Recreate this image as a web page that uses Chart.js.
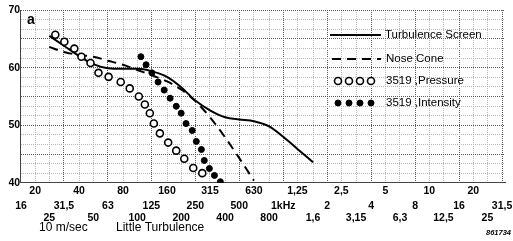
<!DOCTYPE html>
<html>
<head>
<meta charset="utf-8">
<script src="https://cdn.jsdelivr.net/npm/chart.js@4.4.0/dist/chart.umd.min.js"></script>
<style>
  body { margin: 0; background: #fff; }
  canvas { display: block; }
</style>
</head>
<body>
<canvas id="chart" width="513" height="241"></canvas>
<script>
// frequency axis, three rows of labels (Hz)
var row1Freqs = [20, 40, 80, 160, 315, 630, 1250, 2500, 5000, 10000, 20000];
var row1Labels = ["20", "40", "80", "160", "315", "630", "1,25", "2,5", "5", "10", "20"];
var row2Freqs = [16, 31.5, 63, 125, 250, 500, 1000, 2000, 4000, 8000, 16000, 31500];
var row2Labels = ["16", "31,5", "63", "125", "250", "500", "1kHz", "2", "4", "8", "16", "31,5"];
var row3Freqs = [25, 50, 100, 200, 400, 800, 1600, 3150, 6300, 12500, 25000];
var row3Labels = ["25", "50", "100", "200", "400", "800", "1,6", "3,15", "6,3", "12,5", "25"];

// level axis (dB)
var yLabels = [40, 50, 60, 70];

// Turbulence Screen (solid)
var tsFreq = [25, 31.5, 40, 50, 63, 80, 100, 125, 160, 200, 250, 315, 400, 500, 630, 800, 1000, 1250, 1600];
var tsLevel = [65.5, 63.8, 62.0, 60.6, 59.9, 59.8, 59.8, 59.4, 58.4, 56.6, 54.3, 52.6, 51.4, 51.0, 50.7, 49.8, 48.0, 45.9, 43.6];

// Nose Cone (dashed)
var ncFreq = [25, 31.5, 40, 50, 63, 80, 100, 125, 160, 200, 250, 315, 400, 500, 630];
var ncLevel = [63.6, 62.7, 62.2, 61.9, 61.2, 60.5, 59.6, 58.7, 57.6, 56.2, 54.2, 51.4, 47.9, 44.3, 40.4];

// 3519 ,Pressure (open circles)
var pFreq = [27.5, 31.7, 37.1, 41.5, 47.9, 54.3, 63.7, 77.1, 88.9, 102.6, 112.8, 122, 130, 143, 163, 185, 210, 242, 279];
var pLevel = [65.7, 64.5, 63.3, 61.9, 60.8, 59.1, 58.4, 57.5, 56.4, 55.0, 53.6, 52.1, 50.3, 48.6, 47.0, 45.6, 44.2, 42.6, 41.7];

// 3519 ,Intensity (filled dots)
var iFreq = [106, 115, 126, 139, 153, 168, 185, 200, 216, 238, 254, 275, 288, 312, 338, 371];
var iLevel = [61.9, 60.5, 59.1, 57.5, 56.1, 54.7, 53.3, 52.1, 50.3, 49.1, 47.2, 45.8, 43.9, 42.5, 41.3, 40.2];

function pairs(xs, ys) {
  return xs.map(function (x, i) { return { x: x, y: ys[i] }; });
}

var gridFreqs = row1Freqs.concat(row2Freqs, row3Freqs).sort(function (a, b) { return a - b; });

var tickFont = { family: "Liberation Sans", size: 10.5, weight: "bold", lineHeight: 1.05 };

function rowAxis(freqs, labels, weight, pad) {
  return {
    type: "logarithmic",
    position: "bottom",
    weight: weight,
    min: 15.8,
    max: 33000,
    grid: { display: false, drawTicks: false },
    border: { display: false },
    afterBuildTicks: function (scale) {
      scale.ticks = freqs.map(function (f) { return { value: f }; });
    },
    afterFit: function (scale) {
      scale.paddingLeft = 0;
      scale.paddingRight = 0;
    },
    ticks: {
      autoSkip: false,
      maxRotation: 0,
      padding: pad,
      color: "#000",
      font: tickFont,
      callback: function (value) {
        var k = freqs.indexOf(value);
        return k >= 0 ? labels[k] : "";
      }
    }
  };
}

var xMain = rowAxis(gridFreqs, [], 0, 3);
xMain.grid = {
  display: true,
  drawTicks: false,
  lineWidth: 1,
  color: function (ctx) {
    return row2Freqs.indexOf(ctx.tick.value) >= 0 ? "#5a5a5a" : "#b8b8b8";
  }
};
xMain.border = { display: true, color: "#444", width: 1, dash: [1, 1] };
xMain.ticks.callback = function (value) {
  var k = row1Freqs.indexOf(value);
  return k >= 0 ? row1Labels[k] : "";
};

// extra texts and the legend drawn over the plot
var decorations = {
  id: "decorations",
  afterDatasetsDraw: function (chart) {
    var ctx = chart.ctx;
    var ds = chart.data.datasets;
    ctx.save();

    ctx.fillStyle = "#000";
    ctx.font = "bold 14px 'Liberation Sans'";
    ctx.textBaseline = "alphabetic";
    ctx.fillText("a", 27, 24);

    var lx = 330, tx = 386;
    ctx.font = "11.5px 'Liberation Sans'";
    ctx.textBaseline = "middle";

    // Turbulence Screen
    ctx.strokeStyle = ds[3].borderColor;
    ctx.lineWidth = ds[3].borderWidth;
    ctx.beginPath(); ctx.moveTo(lx, 35); ctx.lineTo(lx + 51, 35); ctx.stroke();
    ctx.fillText(ds[3].label, tx - 1, 35);

    // Nose Cone
    ctx.strokeStyle = ds[2].borderColor;
    ctx.lineWidth = ds[2].borderWidth;
    ctx.setLineDash(ds[2].borderDash);
    ctx.beginPath(); ctx.moveTo(lx + 2, 59); ctx.lineTo(lx + 51, 59); ctx.stroke();
    ctx.setLineDash([]);
    ctx.fillText(ds[2].label, tx, 59);

    // point series
    var xs = [338, 349, 360, 371];
    [[0, 81], [1, 103]].forEach(function (it) {
      var d = ds[it[0]];
      xs.forEach(function (x) {
        ctx.beginPath();
        ctx.arc(x, it[1], d.pointRadius, 0, Math.PI * 2);
        ctx.fillStyle = d.pointBackgroundColor;
        ctx.fill();
        ctx.lineWidth = d.pointBorderWidth;
        ctx.strokeStyle = d.pointBorderColor;
        ctx.stroke();
      });
      ctx.fillStyle = "#000";
      ctx.fillText(d.label, tx, it[1]);
    });

    ctx.restore();
  },
  afterDraw: function (chart) {
    var ctx = chart.ctx;
    ctx.save();
    ctx.fillStyle = "#000";
    ctx.textBaseline = "middle";
    ctx.font = "12px 'Liberation Sans'";
    ctx.fillText("10 m/sec", 39, 228);
    ctx.fillText("Little Turbulence", 116, 228);
    ctx.font = "italic bold 7.5px 'Liberation Sans'";
    ctx.fillText("861734", 486, 233);
    ctx.restore();
  }
};

var ctx = document.getElementById("chart").getContext("2d");
var chart = new Chart(ctx, {
  type: "line",
  data: {
    datasets: [
      {
        label: "3519 ,Pressure",
        data: pairs(pFreq, pLevel),
        showLine: false,
        pointRadius: 3.5,
        pointBorderWidth: 1.6,
        pointBorderColor: "#000",
        pointBackgroundColor: "#fff"
      },
      {
        label: "3519 ,Intensity",
        data: pairs(iFreq, iLevel),
        showLine: false,
        pointRadius: 3,
        pointBorderWidth: 1,
        pointBorderColor: "#000",
        pointBackgroundColor: "#000"
      },
      {
        label: "Nose Cone",
        data: pairs(ncFreq, ncLevel),
        borderColor: "#000",
        borderWidth: 2,
        borderDash: [9, 6],
        pointRadius: 0,
        cubicInterpolationMode: "monotone",
        fill: false
      },
      {
        label: "Turbulence Screen",
        data: pairs(tsFreq, tsLevel),
        borderColor: "#000",
        borderWidth: 2,
        pointRadius: 0,
        cubicInterpolationMode: "monotone",
        fill: false
      }
    ]
  },
  options: {
    responsive: false,
    animation: false,
    layout: { padding: { left: 8.5, right: 8, top: 10, bottom: 17 } },
    plugins: {
      legend: { display: false },
      tooltip: { enabled: false }
    },
    scales: {
      x: xMain,
      x2: rowAxis(row2Freqs, row2Labels, 1, 1),
      x3: rowAxis(row3Freqs, row3Labels, 2, 0),
      y: {
        type: "linear",
        min: 40,
        max: 70,
        afterBuildTicks: function (scale) {
          var t = [];
          for (var k = 0; k <= 18; k++) t.push({ value: 40 + (k * 5) / 3 });
          scale.ticks = t;
        },
        grid: {
          drawTicks: false,
          lineWidth: 1,
          color: function (ctx) {
            var v = ctx.tick.value;
            return Math.abs(v / 5 - Math.round(v / 5)) < 1e-6 ? "#5a5a5a" : "#b8b8b8";
          }
        },
        border: { display: true, color: "#444", width: 1, dash: [1, 1] },
        ticks: {
          autoSkip: false,
          padding: 0,
          color: "#000",
          font: tickFont,
          callback: function (value) {
            for (var k = 0; k < yLabels.length; k++) {
              if (Math.abs(value - yLabels[k]) < 1e-6) return String(yLabels[k]);
            }
            return "";
          }
        }
      }
    }
  },
  plugins: [decorations]
});
</script>
</body>
</html>
